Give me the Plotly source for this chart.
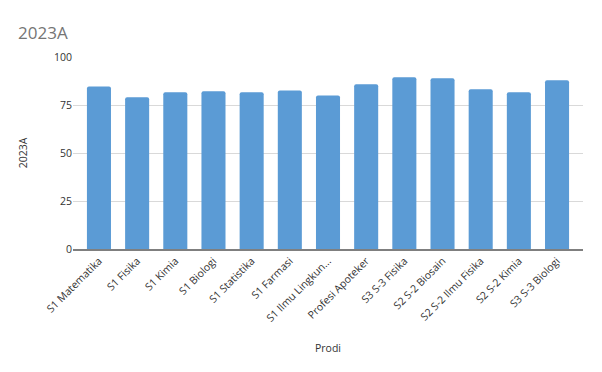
import plotly.graph_objects as go

categories = ["S1 Matematika", "S1 Fisika", "S1 Kimia", "S1 Biologi", "S1 Statistika",
              "S1 Farmasi", "S1 Ilmu Lingkun...", "Profesi Apoteker", "S3 S-3 Fisika",
              "S2 S-2 Biosain", "S2 S-2 Ilmu Fisika", "S2 S-2 Kimia", "S3 S-3 Biologi"]
values = [84.7, 79.0, 81.6, 82.1, 81.6, 82.6, 80.0, 85.8, 89.4, 88.9, 83.2, 81.6, 87.9]
y_ticks = [0, 25, 50, 75, 100]

fig = go.Figure(go.Bar(x=categories, y=values, marker=dict(color="#5b9bd5", line=dict(width=0), cornerradius=2)))

font = "Open Sans, Noto Sans, sans-serif"
txt = "#333333"
fig.update_layout(
    width=602, height=372,
    margin=dict(l=73, r=19, t=57, b=123),
    paper_bgcolor="white", plot_bgcolor="white",
    bargap=0.37,
    showlegend=False,
    font=dict(family=font, size=10, color=txt),
    title=dict(text="2023A", x=0.03, xanchor="left", y=0.91, yanchor="middle",
               font=dict(size=17, color="#757575", family=font)),
    xaxis=dict(title=dict(text="Prodi", font=dict(size=10.5, color=txt), standoff=21),
               range=[-0.68, len(categories) - 0.32],
               tickangle=-45, tickfont=dict(size=10.5, color=txt),
               showgrid=False, showline=True, linecolor="#7f7f7f", linewidth=1.5, ticks=""),
    yaxis=dict(title=dict(text="2023A", font=dict(size=10.5, color=txt), standoff=24),
               range=[0, 100], tickvals=y_ticks, tickfont=dict(size=10.5, color=txt),
               showgrid=True, gridcolor="#d9d9d9", gridwidth=1, zeroline=False,
               showline=False, ticks="", ticklen=0),
)

fig.write_html("out.html", config={"displayModeBar": False},
               post_script="document.body.style.margin='0';document.body.style.padding='0';")
